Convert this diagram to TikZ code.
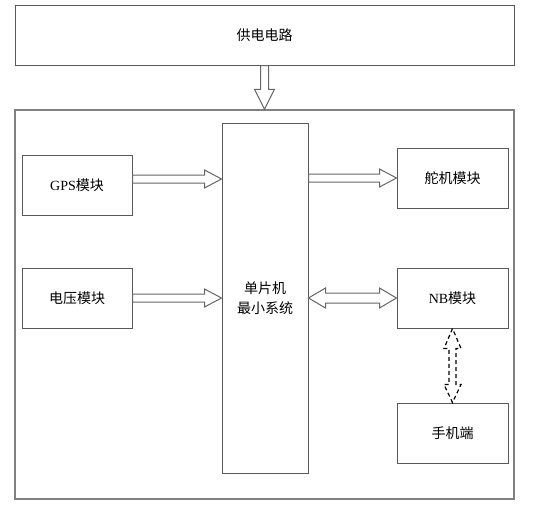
\documentclass[tikz,border=0pt]{standalone}
\usepackage{fontspec}
\setmainfont{Liberation Serif}
\newfontfamily\cjk{Noto Sans CJK SC}
\usetikzlibrary{calc}
\tikzset{
  box/.style={draw=black!65, line width=1pt, fill=white, inner sep=0pt, font=\fontsize{14}{16}\selectfont},
  hollow/.style={draw=black!60, line width=1pt, fill=white, line join=miter},
  dhollow/.style={draw=black, line width=1.2pt, dash pattern=on 4pt off 3pt, fill=white}
}
\newcommand\harr[3]{%
  \draw[hollow] let \p1=(#1), \p2=(#2), \p3=(0,#3) in
    (\x1,\y3+4pt) -- (\x2-17pt,\y3+4pt) -- (\x2-17pt,\y3+9pt) -- (\x2,\y3)
    -- (\x2-17pt,\y3-9pt) -- (\x2-17pt,\y3-4pt) -- (\x1,\y3-4pt) -- cycle;}
\newcommand\hdarr[3]{%
  \draw[hollow] let \p1=(#1), \p2=(#2), \p3=(0,#3) in
    (\x1,\y3) -- (\x1+17pt,\y3+10pt) -- (\x1+17pt,\y3+5pt) -- (\x2-17pt,\y3+5pt)
    -- (\x2-17pt,\y3+10pt) -- (\x2,\y3) -- (\x2-17pt,\y3-10pt) -- (\x2-17pt,\y3-5pt)
    -- (\x1+17pt,\y3-5pt) -- (\x1+17pt,\y3-10pt) -- cycle;}
\begin{document}
\begin{tikzpicture}[x=1pt,y=-1pt]
\useasboundingbox (0,0) rectangle (541,512);
\node[box, draw=black!50, line width=1.3pt, minimum width=499pt, minimum height=389pt] (sys) at (264.5,304.5) {};
\node[box, minimum width=499pt, minimum height=60pt] (top) at (264.5,35) {\cjk 供电电路};
\node[box, minimum width=86pt, minimum height=350pt, align=center] (mcu) at (265,298) {\cjk 单片机\\[4pt]\cjk 最小系统};
\node[box, minimum width=110pt, minimum height=60pt] (gps) at (77,185) {GPS\cjk 模块};
\node[box, minimum width=110pt, minimum height=60pt] (volt) at (77,298) {\cjk 电压模块};
\node[box, minimum width=111pt, minimum height=60pt] (servo) at (452.5,178) {\cjk 舵机模块};
\node[box, minimum width=111pt, minimum height=60pt] (nb) at (452.5,298) {NB\cjk 模块};
\node[box, minimum width=111pt, minimum height=60pt] (phone) at (452.5,433) {\cjk 手机端};
% top arrow
\draw[hollow] let \p1=(top.south), \p2=(sys.north) in
  (\x1-4pt,\y1) -- (\x1-4pt,\y2+20pt) -- (\x1-10pt,\y2+20pt) -- (\x1,\y2)
  -- (\x1+10pt,\y2+20pt) -- (\x1+4pt,\y2+20pt) -- (\x1+4pt,\y1) -- cycle;
\harr{gps.east}{mcu.west}{179}
\harr{volt.east}{mcu.west}{298}
\harr{mcu.east}{servo.west}{178}
\hdarr{mcu.east}{nb.west}{298}
% dashed double arrow
\draw[dhollow] let \p1=(nb.south), \p2=(phone.north) in
  (\x1,\y1) -- (\x1-8.5pt,\y1-20pt) -- (\x1-3.5pt,\y1-20pt) -- (\x1-3.5pt,\y2+18pt)
  -- (\x1-8.5pt,\y2+18pt) -- (\x1,\y2) -- (\x1+8.5pt,\y2+18pt) -- (\x1+3.5pt,\y2+18pt)
  -- (\x1+3.5pt,\y1-20pt) -- (\x1+8.5pt,\y1-20pt) -- cycle;
\end{tikzpicture}
\end{document}
